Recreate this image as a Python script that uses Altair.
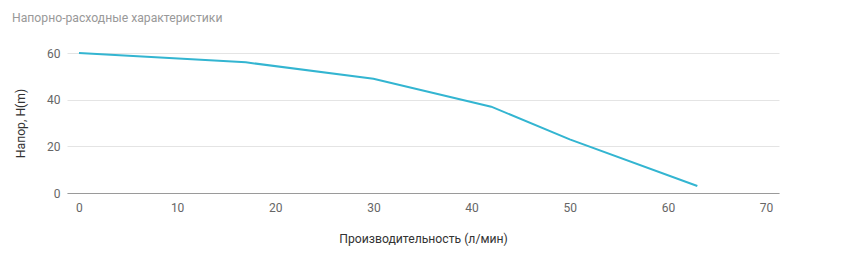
import altair as alt
import pandas as pd

flow = [0, 17, 30, 42, 50, 63]
head = [60, 56, 49, 37, 23, 3]
x_ticks = [0, 10, 20, 30, 40, 50, 60, 70]
y_ticks = [0, 20, 40, 60]

df = pd.DataFrame({"q": flow, "h": head})

chart = alt.Chart(df).mark_line(color="#33b5d1", strokeWidth=2).encode(
    x=alt.X("q:Q",
            scale=alt.Scale(domain=[-1.22, 71.32], nice=False, zero=False),
            axis=alt.Axis(values=x_ticks, title="Производительность (л/мин)",
                          grid=False, ticks=False, domain=True, domainColor="#9a9a9a",
                          labelPadding=9, titlePadding=19, labelColor="#666666",
                          titleColor="#333333", labelFontSize=12, titleFontSize=12.2,
                          titleFontWeight="normal", labelFont="Roboto", titleFont="Roboto")),
    y=alt.Y("h:Q",
            scale=alt.Scale(domain=[0, 60], nice=False),
            axis=alt.Axis(values=y_ticks, title="Напор, H(m)", grid=True,
                          gridColor="#e4e4e4", ticks=False, domain=False,
                          labelPadding=7, titlePadding=19, labelColor="#666666",
                          titleColor="#333333", labelFontSize=12, titleFontSize=12.2,
                          titleFontWeight="normal", labelFont="Roboto", titleFont="Roboto")),
).properties(
    width=712,
    height=140,
    title=alt.TitleParams("Напорно-расходные характеристики", anchor="start",
                          frame="group", dx=-55, offset=23, fontSize=12.2,
                          fontWeight="normal", color="#999999", font="Roboto"),
    autosize=alt.AutoSizeParams(type="none"),
    padding={"left": 67, "top": 53, "right": 62, "bottom": 71},
).configure_view(stroke=None)

chart.save("out.html", embed_options={"renderer": "svg", "actions": False})
